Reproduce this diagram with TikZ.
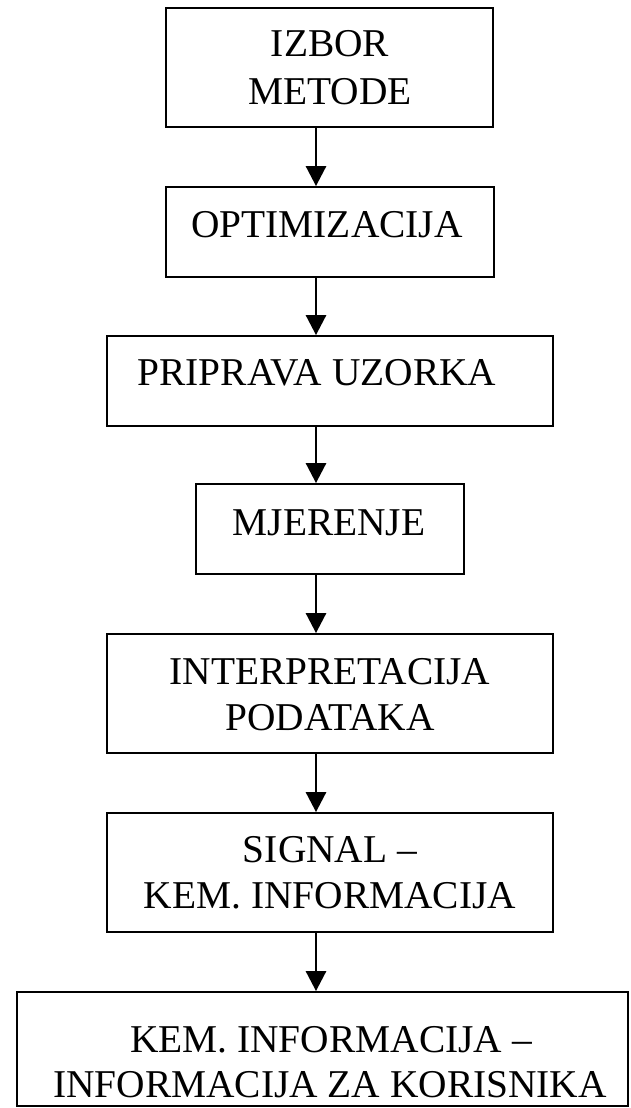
\documentclass[tikz,border=0pt]{standalone}
\usepackage{fontspec}
\setmainfont{Liberation Serif}
\usetikzlibrary{arrows.meta}
\begin{document}
\begin{tikzpicture}[x=1pt,y=-1pt,
  box/.style={draw, line width=1.8pt, inner sep=0pt, rectangle},
  lbl/.style={anchor=base, inner sep=0pt, font=\fontsize{39.4}{46}\selectfont},
  arr/.style={line width=2.8pt, -{Triangle[length=20pt,width=20pt]}, shorten >=0pt}]
\useasboundingbox (0,0) rectangle (631,1108);
% boxes (left,top,right,bottom)
\node[box, minimum width=327pt, minimum height=119pt] (b1) at (329.5,67.5) {};
\node[box, minimum width=328pt, minimum height=90pt] (b2) at (330,232) {};
\node[box, minimum width=446pt, minimum height=90pt] (b3) at (330,381) {};
\node[box, minimum width=268pt, minimum height=90pt] (b4) at (330,529) {};
\node[box, minimum width=446pt, minimum height=119pt] (b5) at (330,693.5) {};
\node[box, minimum width=446pt, minimum height=119pt] (b6) at (330,872.5) {};
\node[box, minimum width=611pt, minimum height=114pt] (b7) at (322.5,1049) {};
% texts
\node[lbl] (t1a) at (330,57) {IZBOR};
\node[lbl] (t1b) at (330,104) {METODE};
\node[lbl] (t2) at (327,237) {OPTIMIZACIJA};
\node[lbl] (t3) at (317,385) {PRIPRAVA UZORKA};
\node[lbl] (t4) at (329,535) {MJERENJE};
\node[lbl] (t5a) at (330,684) {INTERPRETACIJA};
\node[lbl] (t5b) at (330,730) {PODATAKA};
\node[lbl] (t6a) at (330,862) {SIGNAL –};
\node[lbl] (t6b) at (330,908) {KEM. INFORMACIJA};
\node[lbl] (t7a) at (331,1052) {KEM. INFORMACIJA –};
\node[lbl] (t7b) at (330,1097) {INFORMACIJA ZA KORISNIKA};
% arrows
\coordinate (ax) at (316,0);
\draw[arr] (b1.south -| ax) -- (b2.north -| ax);
\draw[arr] (b2.south -| ax) -- (b3.north -| ax);
\draw[arr] (b3.south -| ax) -- (b4.north -| ax);
\draw[arr] (b4.south -| ax) -- (b5.north -| ax);
\draw[arr] (b5.south -| ax) -- (b6.north -| ax);
\draw[arr] (b6.south -| ax) -- (b7.north -| ax);
\end{tikzpicture}
\end{document}
